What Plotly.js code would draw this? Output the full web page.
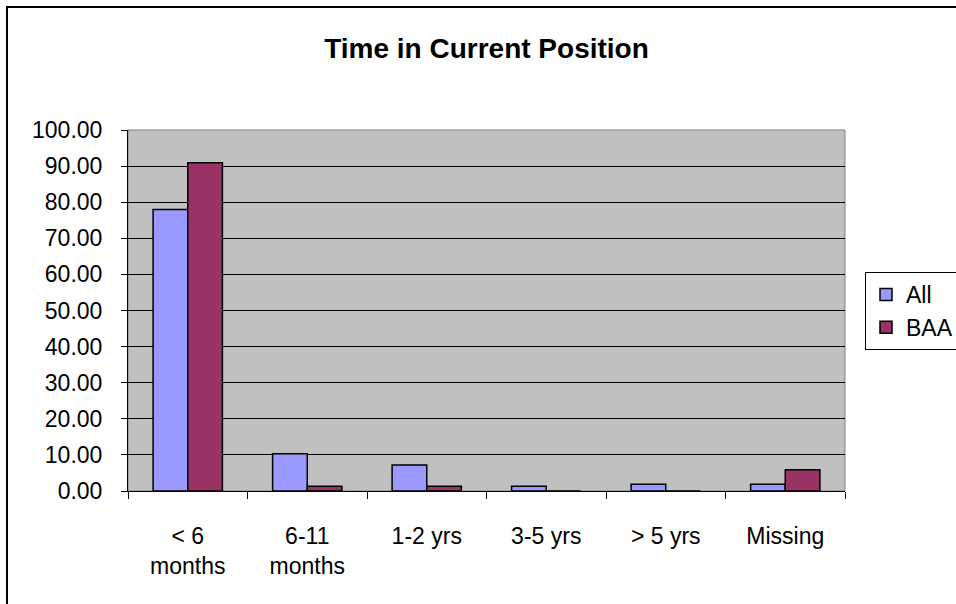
<!DOCTYPE html>
<html>
<head>
<meta charset="utf-8">
<script src="https://cdn.plot.ly/plotly-3.0.1.min.js"></script>
<style>html,body{margin:0;padding:0;background:#fff;}#chart{width:956px;height:604px;}</style>
</head>
<body>
<div id="chart"></div>
<script>
var categories = ["< 6<br>months", "6-11<br>months", "1-2 yrs", "3-5 yrs", "> 5 yrs", "Missing"];
var allValues = [78.0, 10.3, 7.2, 1.3, 1.9, 1.9];
var baaValues = [90.9, 1.3, 1.3, 0, 0, 5.9];
var seriesNames = ["All", "BAA"];

var W = 956, H = 604;
var L = 128, R = 956 - 845, T = 130, B = 604 - 491;
var pw = W - L - R, ph = H - T - B;
function px(x) { return (x - L) / pw; }
function py(y) { return (H - B - y) / ph; }

var font = "Liberation Sans, Arial, sans-serif";

var traces = [
  {type: "bar", name: seriesNames[0], x: categories, y: allValues,
   marker: {color: "#9999FF", line: {color: "#000", width: 1.5}}},
  {type: "bar", name: seriesNames[1], x: categories, y: baaValues,
   marker: {color: "#993366", line: {color: "#000", width: 1.5}}}
];

var layout = {
  width: W, height: H,
  margin: {l: L, r: R, t: T, b: B, pad: 0, autoexpand: false},
  paper_bgcolor: "#fff",
  plot_bgcolor: "#C0C0C0",
  font: {family: font, size: 23, color: "#000"},
  title: {text: "Time in Current Position", font: {family: font, size: 28, weight: "bold", color: "#000"},
          x: 0.5, xref: "paper", y: 1 - 48 / H, yref: "container", yanchor: "middle"},
  barmode: "group",
  bargap: 0.42,
  bargroupgap: 0,
  showlegend: true,
  legend: {x: px(865), xanchor: "left", y: py(272), yanchor: "top",
           bgcolor: "#fff", bordercolor: "#000", borderwidth: 1,
           font: {family: font, size: 23, color: "#000"}, tracegroupgap: 6,
           itemwidth: 30},
  xaxis: {type: "category", showgrid: false, showline: true, linecolor: "#000", linewidth: 1,
          ticks: "outside", tickson: "boundaries", ticklen: 7, tickcolor: "#000",
          ticklabelstandoff: 24, tickfont: {size: 23, family: font}, zeroline: false, automargin: false},
  yaxis: {range: [0, 100], dtick: 10, tickformat: ".2f", showgrid: true, gridcolor: "#000", gridwidth: 1,
          showline: true, linecolor: "#000", linewidth: 1, ticks: "outside", ticklen: 6, tickcolor: "#000",
          ticklabelstandoff: 14, tickfont: {size: 23, family: font}, zeroline: false, automargin: false},
  shapes: [
    {type: "rect", xref: "paper", yref: "paper", x0: 0, x1: 1, y0: 0, y1: 1,
     line: {color: "#808080", width: 1}, fillcolor: "rgba(0,0,0,0)", layer: "below"},
    {type: "rect", xref: "paper", yref: "paper", x0: px(7), x1: px(1100), y0: py(700), y1: py(7),
     line: {color: "#000", width: 2}, fillcolor: "rgba(0,0,0,0)", layer: "above"}
  ]
};

Plotly.newPlot("chart", traces, layout, {staticPlot: true, displayModeBar: false});
</script>
</body>
</html>
